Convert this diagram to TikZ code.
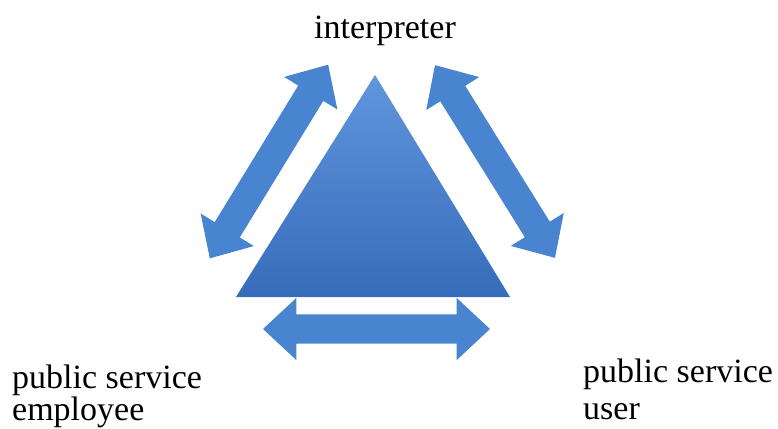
\documentclass[tikz,border=0pt]{standalone}
\usepackage{fontspec}
\setmainfont{Liberation Serif}
\usetikzlibrary{shapes.arrows}
\definecolor{arrowblue}{RGB}{72,132,208}
\definecolor{tritop}{RGB}{96,150,220}
\definecolor{tribot}{RGB}{54,108,186}
\begin{document}
\begin{tikzpicture}[x=1pt,y=-1pt,
  dblarrow/.style={double arrow, fill=arrowblue, draw=none,
    minimum height=227pt, double arrow head extend=16.5pt,
    double arrow tip angle=86, inner xsep=0pt, inner ysep=14.5pt},
  lbl/.style={font=\fontsize{34}{32}\selectfont, inner sep=0pt, align=left}]
\useasboundingbox (0,0) rectangle (778,428);
% triangle
\coordinate (apex) at (375,75);
\coordinate (bl) at (236,297);
\coordinate (br) at (510,297);
\shade[top color=tritop, bottom color=tribot] (apex) -- (br) -- (bl) -- cycle;
% arrows
\node[dblarrow, rotate=58.56] (leftarrow) at (269,161.5) {};
\node[dblarrow, rotate=-58.1] (rightarrow) at (495,161.5) {};
\node[dblarrow] (bottomarrow) at (376.5,329) {};
% labels
\node[lbl, anchor=base] (interp) at (385,38) {interpreter};
\node[lbl, anchor=base west] (employee) at (12,420) {public service\\employee};
\node[lbl, anchor=base west, font=\fontsize{34}{37}\selectfont] (user) at (583,419) {public service\\user};
\end{tikzpicture}
\end{document}
